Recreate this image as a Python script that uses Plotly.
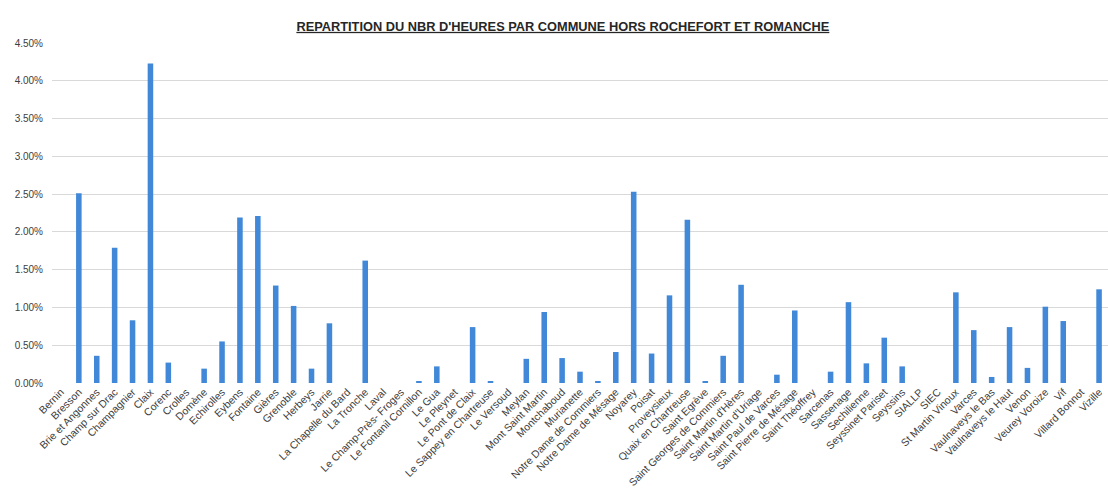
import plotly.graph_objects as go

communes = [
    "Bernin", "Bresson", "Brie et Angonnes", "Champ sur Drac", "Champagnier",
    "Claix", "Corenc", "Crolles", "Domène", "Echirolles", "Eybens", "Fontaine",
    "Gières", "Grenoble", "Herbeys", "Jarrie", "La Chapelle du Bard", "La Tronche",
    "Laval", "Le Champ-Près- Froges", "Le Fontanil Cornillon", "Le Gua", "Le Pleynet",
    "Le Pont de Claix", "Le Sappey en Chartreuse", "Le Versoud", "Meylan",
    "Mont Saint Martin", "Montchaboud", "Murianette", "Notre Dame de Commiers",
    "Notre Dame de Mésage", "Noyarey", "Poisat", "Proveysieux", "Quaix en Chartreuse",
    "Saint Egrève", "Saint Georges de Commiers", "Saint Martin d'Hères",
    "Saint Martin d'Uriage", "Saint Paul de Varces", "Saint Pierre de Mésage",
    "Saint Théoffrey", "Sarcenas", "Sassenage", "Sechilienne", "Seyssinet Pariset",
    "Seyssins", "SIALLP", "SIEC", "St Martin Vinoux", "Varces", "Vaulnaveys le Bas",
    "Vaulnaveys le Haut", "Venon", "Veurey Voroize", "Vif", "Villard Bonnot", "Vizille",
]

parts_pct = [
    0, 2.51, 0.36, 1.79, 0.83,
    4.23, 0.27, 0, 0.19, 0.55, 2.19, 2.21,
    1.29, 1.02, 0.19, 0.79, 0, 1.62,
    0, 0, 0.02, 0.22, 0,
    0.74, 0.02, 0, 0.32,
    0.94, 0.33, 0.15, 0.02,
    0.41, 2.53, 0.39, 1.16, 2.16,
    0.02, 0.36, 1.30,
    0, 0.11, 0.96,
    0, 0.15, 1.07, 0.26, 0.60,
    0.22, 0, 0, 1.20, 0.70, 0.08,
    0.74, 0.20, 1.01, 0.82, 0, 1.24,
]

y_ticks = [0.0, 0.005, 0.01, 0.015, 0.02, 0.025, 0.03, 0.035, 0.04, 0.045]

title_text = "REPARTITION DU NBR D'HEURES PAR COMMUNE HORS ROCHEFORT ET ROMANCHE"

values = [v / 100 for v in parts_pct]

fig = go.Figure(
    go.Bar(
        x=communes,
        y=values,
        marker=dict(color="#4189d8", line=dict(width=0)),
    )
)

fig.update_layout(
    width=1108,
    height=498,
    margin=dict(l=52, r=0, t=43, b=115),
    paper_bgcolor="white",
    plot_bgcolor="white",
    bargap=0.69,
    showlegend=False,
    font=dict(family="Liberation Sans, Arial, sans-serif", color="#404040"),
    title=dict(
        text="<b><u>" + title_text + "</u></b>",
        x=0.508,
        xanchor="center",
        y=0.947,
        yanchor="middle",
        font=dict(size=12.8, color="#262626"),
    ),
)

fig.update_xaxes(
    type="category",
    tickangle=-45,
    tickfont=dict(size=10.5, color="#404040"),
    showgrid=False,
    showline=False,
    ticks="",
    automargin=False,
)

fig.update_yaxes(
    range=[0, 0.045],
    tickvals=y_ticks,
    tickformat=".2%",
    tickfont=dict(size=10, color="#404040"),
    ticklabelstandoff=8,
    showgrid=True,
    gridcolor="#d9d9d9",
    gridwidth=1,
    zeroline=False,
    showline=False,
    ticks="",
    automargin=False,
)

fig.write_html("out.html")
